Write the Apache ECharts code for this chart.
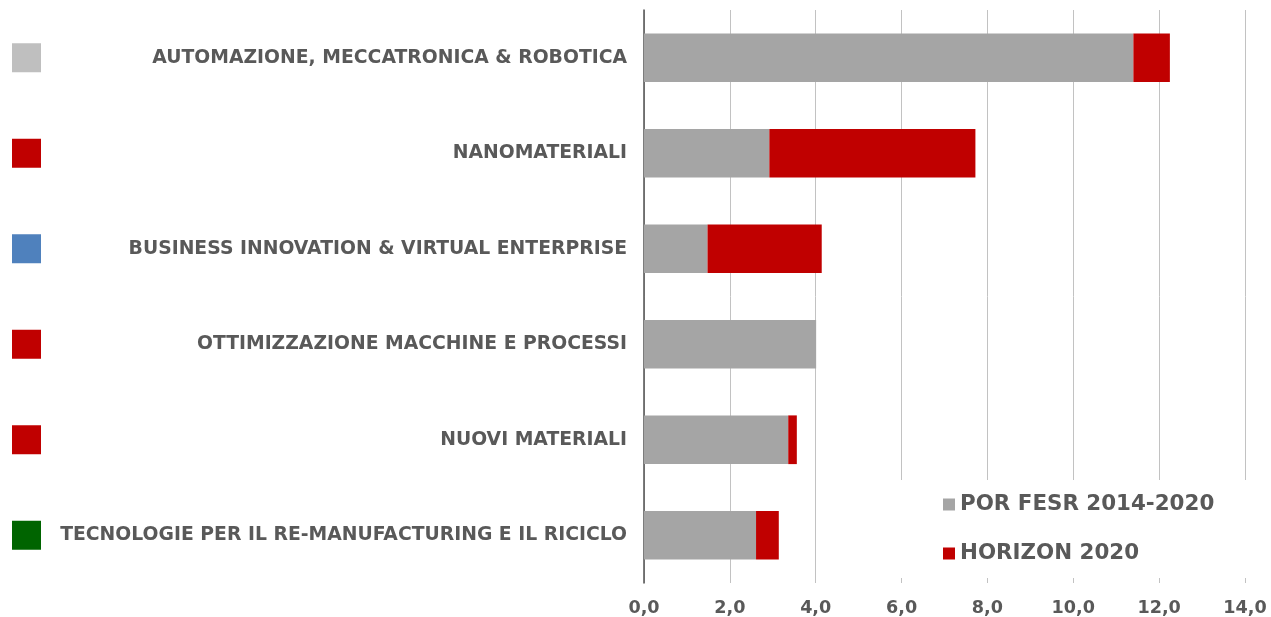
<!DOCTYPE html>
<html>
<head>
<meta charset="utf-8">
<script src="https://cdn.jsdelivr.net/npm/echarts@6/dist/echarts.min.js"></script>
<style>
  html, body { margin: 0; padding: 0; background: #fff; }
  #chart { width: 1271px; height: 617px; }
</style>
</head>
<body>
<div id="chart"></div>
<script>
// Areas of specialisation, listed top to bottom
const categories = [
  'AUTOMAZIONE, MECCATRONICA & ROBOTICA',
  'NANOMATERIALI',
  'BUSINESS INNOVATION & VIRTUAL ENTERPRISE',
  'OTTIMIZZAZIONE MACCHINE E PROCESSI',
  'NUOVI MATERIALI',
  'TECNOLOGIE PER IL RE-MANUFACTURING E IL RICICLO'
];
// Marker colour shown beside each area
const categoryColors = ['#BFBFBF', '#C00000', '#4F81BD', '#C00000', '#C00000', '#006400'];

const seriesNames = ['POR FESR 2014-2020', 'HORIZON 2020'];
const porFesr = [11.4, 2.92, 1.48, 4.01, 3.36, 2.61];
const horizon = [0.85, 4.80, 2.66, 0, 0.20, 0.53];

const xTicks = [0, 2, 4, 6, 8, 10, 12, 14];
const xTickLabels = ['0,0', '2,0', '4,0', '6,0', '8,0', '10,0', '12,0', '14,0'];

const FONT = 'DejaVu Sans';
const TEXT = '#595959';

const chart = echarts.init(document.getElementById('chart'), null, { renderer: 'canvas' });

const option = {
  animation: false,
  backgroundColor: '#fff',
  grid: { left: 644, right: 26, top: 10, bottom: 34, containLabel: false },
  xAxis: {
    type: 'value',
    min: xTicks[0],
    max: xTicks[xTicks.length - 1],
    interval: xTicks[1] - xTicks[0],
    axisLine: { show: false },
    axisTick: { show: false },
    splitLine: { show: true, lineStyle: { color: '#C2C2C2', width: 1 } },
    axisLabel: {
      margin: 16,
      color: TEXT,
      fontFamily: FONT,
      fontWeight: 'bold',
      fontSize: 17.6,
      formatter: v => xTickLabels[xTicks.indexOf(v)]
    }
  },
  yAxis: {
    type: 'category',
    data: categories,
    inverse: true,
    axisLine: { show: true, lineStyle: { color: '#505050', width: 1.5 } },
    axisTick: { show: false },
    axisLabel: {
      margin: 17,
      color: TEXT,
      fontFamily: FONT,
      fontWeight: 'bold',
      fontSize: 18.8
    }
  },
  legend: {
    orient: 'vertical',
    left: 890,
    top: 480,
    padding: [14, 40, 14, 53],
    itemGap: 28,
    itemWidth: 12,
    itemHeight: 12,
    icon: 'rect',
    backgroundColor: '#fff',
    textStyle: { color: TEXT, fontFamily: FONT, fontWeight: 'bold', fontSize: 21.4, padding: [0, 0, 0, 0] },
    data: seriesNames
  },
  series: [
    {
      name: seriesNames[0],
      type: 'bar',
      stack: 'tot',
      data: porFesr,
      barWidth: '51%',
      itemStyle: { color: '#A5A5A5' }
    },
    {
      name: seriesNames[1],
      type: 'bar',
      stack: 'tot',
      data: horizon,
      barWidth: '51%',
      itemStyle: { color: '#C00000' }
    }
  ]
};

chart.setOption(option);

// Coloured markers at the far left, one per category row
const markers = categories.map((c, i) => {
  const y = chart.convertToPixel({ yAxisIndex: 0 }, c);
  return {
    type: 'rect',
    shape: { x: 12, y: y - 14.5, width: 29, height: 29 },
    style: { fill: categoryColors[i] }
  };
});
chart.setOption({ graphic: markers });
</script>
</body>
</html>
